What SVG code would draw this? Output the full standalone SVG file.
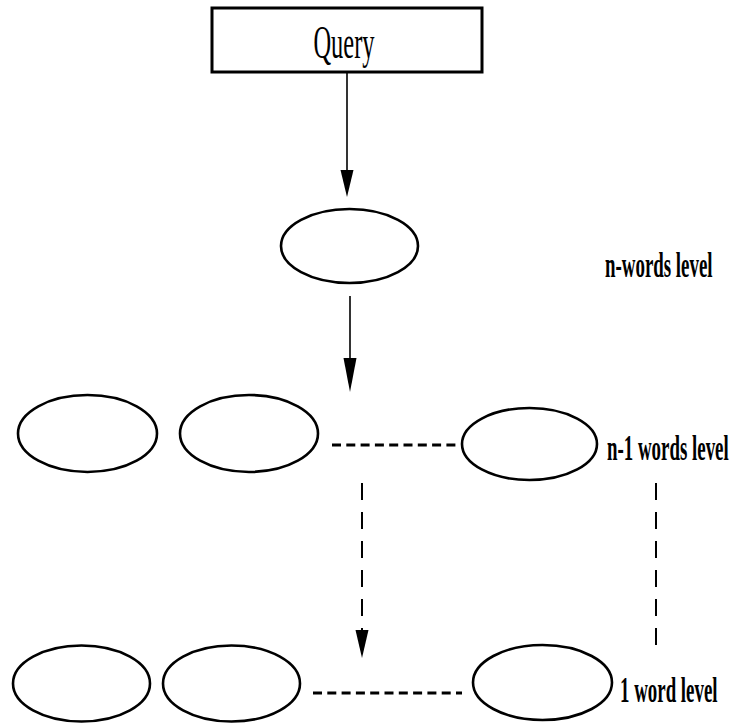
<svg xmlns="http://www.w3.org/2000/svg" width="732" height="724" viewBox="0 0 732 724">
  <style>
    .node { fill: #fff; stroke: #000; stroke-width: 2.6; }
    .box { fill: #fff; stroke: #000; stroke-width: 3; }
    .arrow { stroke: #000; stroke-width: 1.6; fill: none; }
    .dash-h { stroke: #000; stroke-width: 3; stroke-dasharray: 9 5.3; fill: none; }
    .dash-v { stroke: #000; stroke-width: 2; stroke-dasharray: 17 12; fill: none; }
    .title { font-family: "Liberation Serif", "Times New Roman", serif; font-size: 47px; fill: #000; }
    .level { font-family: "Liberation Serif", "Times New Roman", serif; font-size: 35px; font-weight: bold; fill: #000; }
  </style>
  <rect width="732" height="724" fill="#fff"/>

  <!-- connectors -->
  <g id="connectors">
    <line class="arrow" x1="347" y1="72" x2="347" y2="170"/>
    <path d="M340.5,170 L353.5,170 L347,197 Z" fill="#000"/>
    <line class="arrow" x1="350" y1="296" x2="350" y2="360"/>
    <path d="M343.5,358 L356.5,358 L350,392 Z" fill="#000"/>
    <line class="dash-h" x1="332" y1="445" x2="460" y2="445"/>
    <line class="dash-h" x1="313" y1="693" x2="462" y2="693"/>
    <line class="dash-v" x1="362" y1="483" x2="362" y2="630"/>
    <path d="M355.5,630 L368.5,630 L362,658 Z" fill="#000"/>
    <line class="dash-v" x1="656" y1="483" x2="656" y2="655"/>
  </g>

  <g id="query">
    <rect class="box" x="212" y="8" width="270" height="64"/>
    <!-- condensed serif: horizontal scale only -->
    <text class="title" transform="translate(344 58) scale(0.52 1)" text-anchor="middle">Query</text>
  </g>

  <g id="n-words">
    <ellipse class="node" cx="349.5" cy="246" rx="68.5" ry="37"/>
  </g>
  <g id="label-n">
    <text class="level" transform="translate(605 277) scale(0.54 1)">n-words level</text>
  </g>

  <g id="n1-a">
    <ellipse class="node" cx="87.5" cy="433.5" rx="69.5" ry="38.5"/>
  </g>
  <g id="n1-b">
    <ellipse class="node" cx="249" cy="433.5" rx="69" ry="38.5"/>
  </g>
  <g id="n1-c">
    <ellipse class="node" cx="529.5" cy="444" rx="67.5" ry="36"/>
  </g>
  <g id="label-n1">
    <text class="level" transform="translate(607 460) scale(0.54 1)">n-1 words level</text>
  </g>

  <g id="w1-a">
    <ellipse class="node" cx="81.5" cy="683.5" rx="68.5" ry="38"/>
  </g>
  <g id="w1-b">
    <ellipse class="node" cx="231.5" cy="683.5" rx="68.5" ry="38"/>
  </g>
  <g id="w1-c">
    <ellipse class="node" cx="542.5" cy="682.5" rx="69.5" ry="37.5"/>
  </g>
  <g id="label-1">
    <text class="level" transform="translate(620 702) scale(0.54 1)">1 word level</text>
  </g>
</svg>
